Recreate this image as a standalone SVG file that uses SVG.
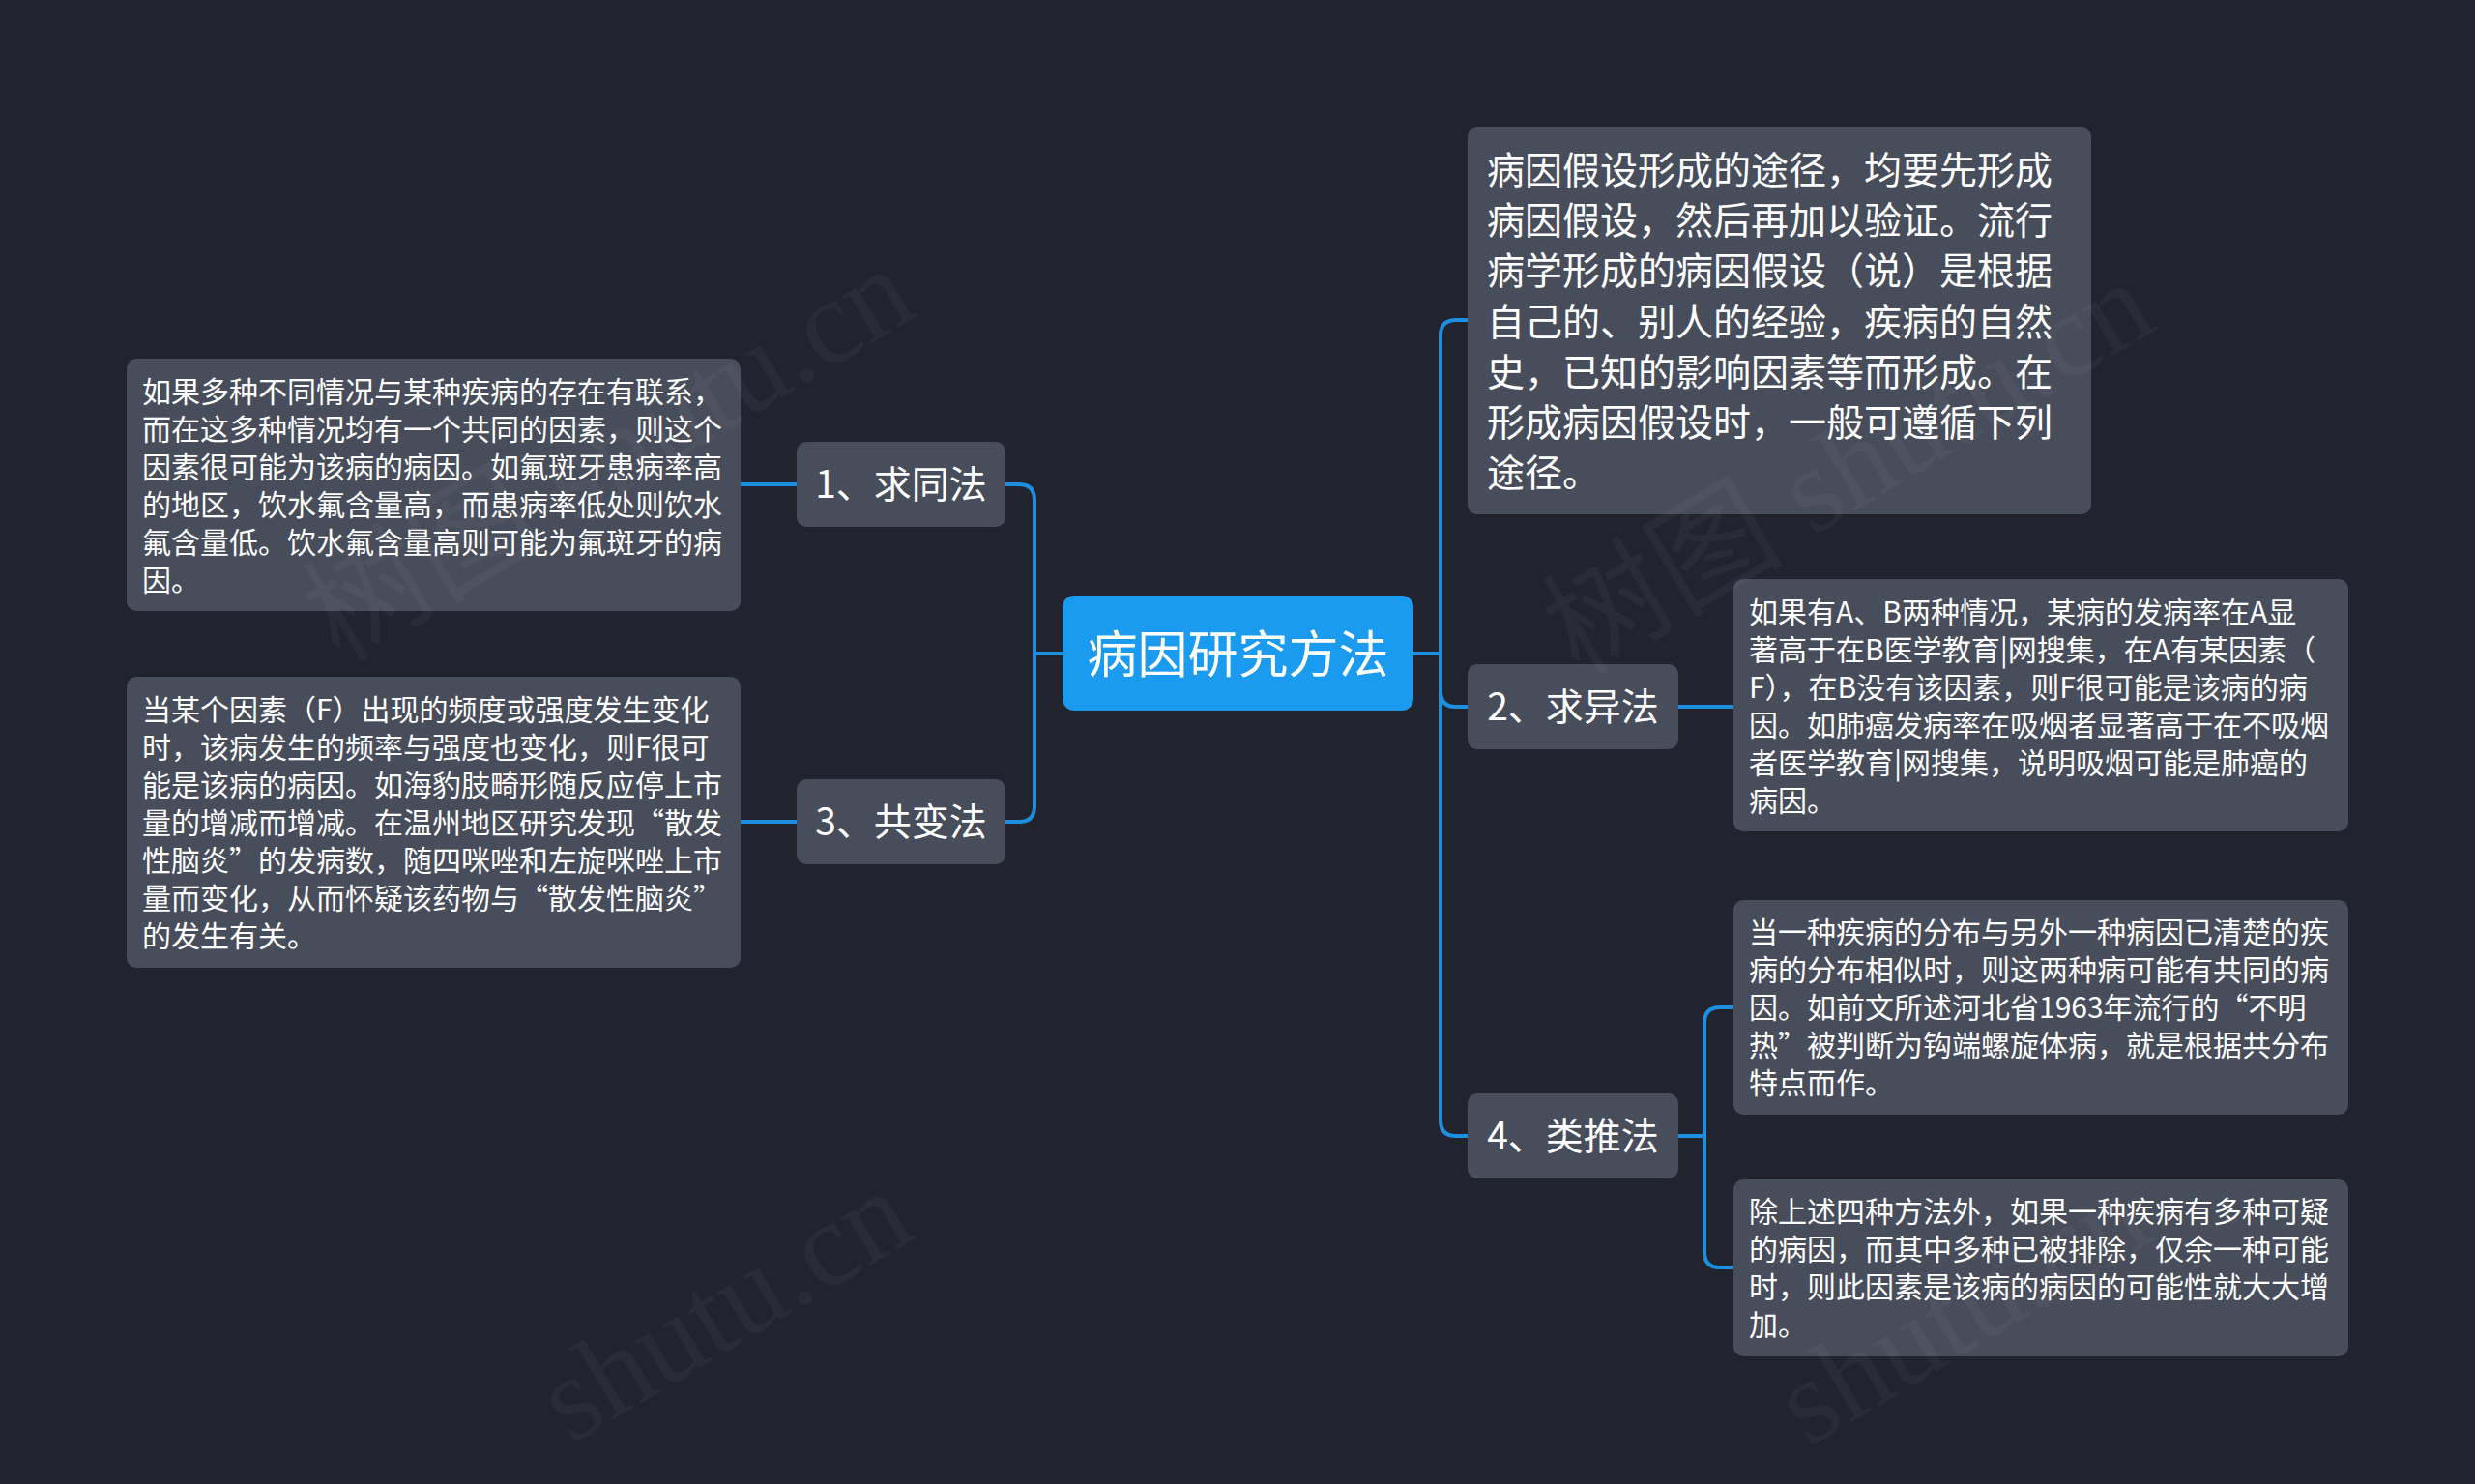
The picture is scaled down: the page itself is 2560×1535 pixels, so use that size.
<svg xmlns="http://www.w3.org/2000/svg" width="2560" height="1535" viewBox="0 0 2560 1535">
<style>
.bg{fill:#21242f}
.box{fill:#484d5b}
.root{fill:#1a9bf0}
.t{font-family:"Noto Sans CJK SC","Noto Sans",sans-serif;fill:#ffffff}
.leaf{font-size:30px}
.big{font-size:39px}
.lvl{font-size:39px}
.rt{font-size:52px}
.wire{fill:none;stroke:#1d8fe1;stroke-width:4;stroke-linecap:round}
.wm{font-family:"Liberation Serif","Noto Sans CJK SC",serif;font-size:125px;fill:#ffffff;opacity:0.035}
</style>
<rect class="bg" x="0" y="0" width="2560" height="1535"/>

<g id="connectors">
<path class="wire" d="M1099,676 H1070"/>
<path class="wire" d="M1040,501 H1054 Q1070,501 1070,517 V834 Q1070,850 1054,850 H1040"/>
<path class="wire" d="M824,501 H766"/>
<path class="wire" d="M824,850 H766"/>
<path class="wire" d="M1462,676 H1490"/>
<path class="wire" d="M1518,331 H1506 Q1490,331 1490,347 V1159 Q1490,1175 1506,1175 H1518"/>
<path class="wire" d="M1490,715 Q1490,731 1506,731 H1518"/>
<path class="wire" d="M1736,731 H1793"/>
<path class="wire" d="M1736,1175 H1763"/>
<path class="wire" d="M1793,1042 H1779 Q1763,1042 1763,1058 V1295 Q1763,1311 1779,1311 H1793"/>
</g>

<g id="root">
<rect class="root" x="1099" y="616" width="363" height="119" rx="12"/>
<text class="t rt" x="1280.5" y="696" text-anchor="middle">病因研究方法</text>
</g>

<g id="n1">
<rect class="box" x="824" y="457" width="216" height="88" rx="10"/>
<text class="t lvl" x="932" y="515" text-anchor="middle">1、求同法</text>
</g>

<g id="n3">
<rect class="box" x="824" y="806" width="216" height="88" rx="10"/>
<text class="t lvl" x="932" y="864" text-anchor="middle">3、共变法</text>
</g>

<g id="n2">
<rect class="box" x="1518" y="687" width="218" height="88" rx="10"/>
<text class="t lvl" x="1627" y="745" text-anchor="middle">2、求异法</text>
</g>

<g id="n4">
<rect class="box" x="1518" y="1131" width="218" height="88" rx="10"/>
<text class="t lvl" x="1627" y="1189" text-anchor="middle">4、类推法</text>
</g>

<g id="n0">
<rect class="box" x="1518" y="131" width="645" height="401" rx="10"/>
<text class="t big">
<tspan x="1538" y="190">病因假设形成的途径，均要先形成</tspan>
<tspan x="1538" y="242">病因假设，然后再加以验证。流行</tspan>
<tspan x="1538" y="294">病学形成的病因假设（说）是根据</tspan>
<tspan x="1538" y="347">自己的、别人的经验，疾病的自然</tspan>
<tspan x="1538" y="399">史，已知的影响因素等而形成。在</tspan>
<tspan x="1538" y="451">形成病因假设时，一般可遵循下列</tspan>
<tspan x="1538" y="503">途径。</tspan>
</text>
</g>

<g id="leaf1">
<rect class="box" x="131" y="371" width="635" height="261" rx="10"/>
<text class="t leaf">
<tspan x="147" y="415.5">如果多种不同情况与某种疾病的存在有联系，</tspan>
<tspan x="147" y="454.5">而在这多种情况均有一个共同的因素，则这个</tspan>
<tspan x="147" y="493.5">因素很可能为该病的病因。如氟斑牙患病率高</tspan>
<tspan x="147" y="532.5">的地区，饮水氟含量高，而患病率低处则饮水</tspan>
<tspan x="147" y="571.5">氟含量低。饮水氟含量高则可能为氟斑牙的病</tspan>
<tspan x="147" y="610.5">因。</tspan>
</text>
</g>

<g id="leaf3">
<rect class="box" x="131" y="700" width="635" height="301" rx="10"/>
<text class="t leaf">
<tspan x="147" y="745">当某个因素（F）出现的频度或强度发生变化</tspan>
<tspan x="147" y="784">时，该病发生的频率与强度也变化，则F很可</tspan>
<tspan x="147" y="823">能是该病的病因。如海豹肢畸形随反应停上市</tspan>
<tspan x="147" y="862">量的增减而增减。在温州地区研究发现“散发</tspan>
<tspan x="147" y="901">性脑炎”的发病数，随四咪唑和左旋咪唑上市</tspan>
<tspan x="147" y="940">量而变化，从而怀疑该药物与“散发性脑炎”</tspan>
<tspan x="147" y="979">的发生有关。</tspan>
</text>
</g>

<g id="leaf2">
<rect class="box" x="1793" y="599" width="636" height="261" rx="10"/>
<text class="t leaf">
<tspan x="1809" y="643.5">如果有A、B两种情况，某病的发病率在A显</tspan>
<tspan x="1809" y="682.5">著高于在B医学教育|网搜集，在A有某因素（</tspan>
<tspan x="1809" y="721.5">F），在B没有该因素，则F很可能是该病的病</tspan>
<tspan x="1809" y="760.5">因。如肺癌发病率在吸烟者显著高于在不吸烟</tspan>
<tspan x="1809" y="799.5">者医学教育|网搜集，说明吸烟可能是肺癌的</tspan>
<tspan x="1809" y="838.5">病因。</tspan>
</text>
</g>

<g id="leaf4a">
<rect class="box" x="1793" y="931" width="636" height="222" rx="10"/>
<text class="t leaf">
<tspan x="1809" y="975">当一种疾病的分布与另外一种病因已清楚的疾</tspan>
<tspan x="1809" y="1014">病的分布相似时，则这两种病可能有共同的病</tspan>
<tspan x="1809" y="1053">因。如前文所述河北省1963年流行的“不明</tspan>
<tspan x="1809" y="1092">热”被判断为钩端螺旋体病，就是根据共分布</tspan>
<tspan x="1809" y="1131">特点而作。</tspan>
</text>
</g>

<g id="leaf4b">
<rect class="box" x="1793" y="1220" width="636" height="183" rx="10"/>
<text class="t leaf">
<tspan x="1809" y="1264">除上述四种方法外，如果一种疾病有多种可疑</tspan>
<tspan x="1809" y="1303">的病因，而其中多种已被排除，仅余一种可能</tspan>
<tspan x="1809" y="1342">时，则此因素是该病的病因的可能性就大大增</tspan>
<tspan x="1809" y="1381">加。</tspan>
</text>
</g>

<g id="watermark">
<text class="wm" transform="translate(351,686) rotate(-31)">树图 shutu.cn</text>
<text class="wm" transform="translate(1633,700) rotate(-31)">树图 shutu.cn</text>
<text class="wm" transform="translate(590,1495) rotate(-31)">shutu.cn</text>
<text class="wm" transform="translate(1870,1498) rotate(-31)">shutu.cn</text>
</g>
</svg>
